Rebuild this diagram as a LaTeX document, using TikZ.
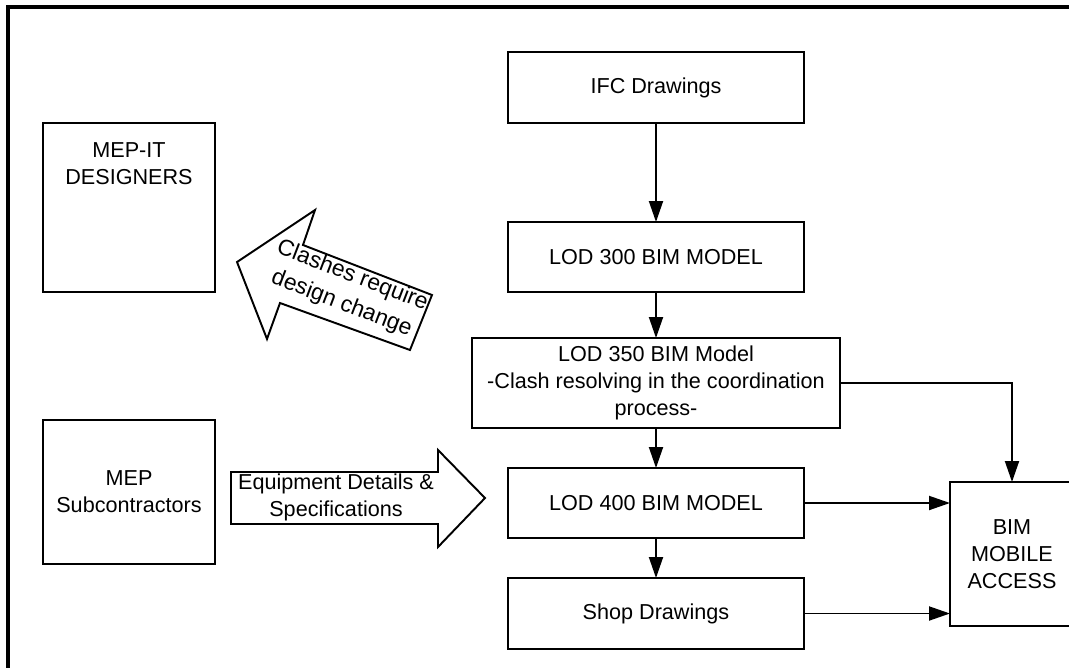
\documentclass[tikz,border=0pt]{standalone}
\usepackage{fontspec}
\setmainfont{Liberation Sans}
\usetikzlibrary{arrows.meta,positioning}
\def\px{0.02cm}
\tikzset{
	txt/.style={align=center, font=\fontsize{12.3}{15.4}\selectfont},
	box/.style={txt, draw, line width=1.1pt, inner sep=2pt, outer sep=0pt},
	flow/.style={line width=1.1pt, -{Triangle[length=0.42cm,width=0.28cm]}},
	fatarrow/.style={draw, line width=1.1pt, line join=miter, fill=white},
}
\begin{document}
\begin{tikzpicture}[x=0.02cm,y=-0.02cm]
	\useasboundingbox (0,0) rectangle (1069,667);
	\clip (0,0) rectangle (1069,667);
	%%%%%%%%%%%%%%%%%%%
	%      frame      %
	%%%%%%%%%%%%%%%%%%%
		\draw [line width=2.2pt] (8,700) -- (8,7) -- (1100,7);
	%%%%%%%%%%%%%%%%%%%
	%   main column   %
	%%%%%%%%%%%%%%%%%%%
		\def\midX{656}
		\def\boxW{296}
		\node [box, minimum width=\boxW*\px, minimum height=71*\px] (ifc) at (\midX,87.5) {IFC Drawings};
		\node [box, minimum width=\boxW*\px, minimum height=70*\px] (lod300) at (\midX,257) {LOD 300 BIM MODEL};
		\node [box, minimum width=368*\px, minimum height=90*\px] (lod350) at (\midX,383) {LOD 350 BIM Model\\-Clash resolving in the coordination\\process-};
		\node [box, minimum width=\boxW*\px, minimum height=70*\px] (lod400) at (\midX,503) {LOD 400 BIM MODEL};
		\node [box, minimum width=\boxW*\px, minimum height=71*\px] (shop) at (\midX,613.5) {Shop Drawings};
		% mobile access
		\node [box, minimum width=124*\px, minimum height=144*\px] (bim) at (1012,554) {BIM\\MOBILE\\ACCESS};
	%%%%%%%%%%%%%%%%%%%
	%    left side    %
	%%%%%%%%%%%%%%%%%%%
		\node [box, minimum width=172*\px, minimum height=169*\px] (mepit) at (129,207.5) {};
		\node [txt] (mepittext) at (129,164) {MEP-IT\\DESIGNERS};
		\node [box, minimum width=172*\px, minimum height=144*\px] (mepsub) at (129,492) {MEP\\Subcontractors};
		% clash arrow
			\draw [fatarrow] (237,262) -- (315,210) -- (303,245) -- (432,295) -- (410,350) -- (280,303) -- (267,339) -- cycle;
			\node [txt, font=\fontsize{13}{17}\selectfont, rotate=-21] (clashtext) at (347,290) {Clashes require\\design change};
		% equipment arrow
			\draw [fatarrow] (231,472) -- (438,472) -- (438,450) -- (485,498) -- (438,547) -- (438,524) -- (231,524) -- cycle;
			\node [txt] (equiptext) at (336,497) {Equipment Details \&\\Specifications};
	%%%%%%%%%%%%%%%%%%%
	%   connectors    %
	%%%%%%%%%%%%%%%%%%%
		\draw [flow] (ifc) -- (lod300);
		\draw [flow] (lod300) -- (lod350);
		\draw [flow] (lod350) -- (lod400);
		\draw [flow] (lod400) -- (shop);
		\draw [flow] (lod350.east) -| (bim.north);
		\draw [flow] (lod400.east) -- (lod400.east -| bim.west);
		\draw [flow] (shop.east) -- (shop.east -| bim.west);
\end{tikzpicture}
\end{document}
